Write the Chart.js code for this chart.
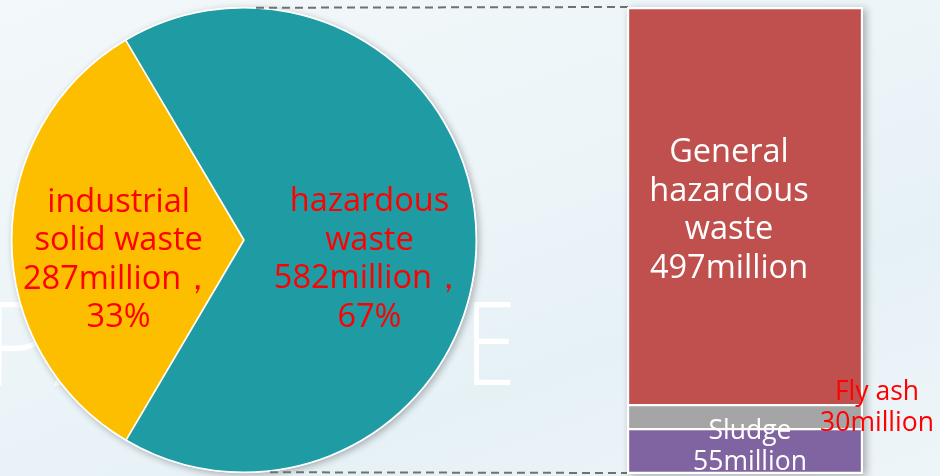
<!DOCTYPE html>
<html>
<head>
<meta charset="utf-8">
<script src="https://cdn.jsdelivr.net/npm/chart.js@4"></script>
<style>
  html, body { margin:0; padding:0; }
  body {
    width:940px; height:476px; overflow:hidden; position:relative;
    background: linear-gradient(160deg, #f3f8fa 0%, #edf5f8 40%, #e6f1f6 70%, #eef5f8 100%);
    font-family: "Open Sans", "Noto Sans", sans-serif;
  }
  .mark {
    position:absolute; top:282px; font-size:116px; font-weight:300;
    color:#ffffff; white-space:nowrap; line-height:1;
  }
  #mark1 { left:-16px; letter-spacing:2px; }
  #mark2 { right:424px; transform:scaleX(0.8); transform-origin:right center; }
  canvas { position:absolute; left:0; top:0; }
</style>
</head>
<body>
<div class="mark" id="mark1">PART</div>
<div class="mark" id="mark2">E</div>
<canvas id="pie" width="940" height="476"></canvas>
<canvas id="bar" width="940" height="476"></canvas>
<script>
// pie: total waste split
const pieNames = [['industrial', 'solid waste'], ['hazardous', 'waste']];
const pieValues = [287, 582];
const pieShares = ['33%', '67%'];
const pieColors = ['#fdbe00', '#1f9ca3'];

// stacked bar: hazardous waste breakdown (bottom to top)
const barNames = [['Sludge'], ['Fly ash'], ['General', 'hazardous', 'waste']];
const barValues = [55, 30, 497];
const barColors = ['#8064a2', '#a5a5a5', '#c0504d'];

const FONT = '"Open Sans", "Noto Sans", sans-serif';

function drawLines(ctx, lines, x, y, size, lh, color) {
  ctx.save();
  ctx.font = size + 'px ' + FONT;
  ctx.fillStyle = color;
  ctx.textAlign = 'center';
  ctx.textBaseline = 'middle';
  var top = y - (lines.length - 1) * lh / 2;
  lines.forEach(function (t, i) { ctx.fillText(t, x, top + i * lh); });
  ctx.restore();
}

// soft shadow behind the whole pie + slice labels
const pieShadow = {
  id: 'pieShadow',
  beforeDatasetsDraw(chart) {
    var a = chart.getDatasetMeta(0).data[0];
    var ctx = chart.ctx;
    ctx.save();
    ctx.shadowColor = 'rgba(0,0,0,0.28)';
    ctx.shadowBlur = 7;
    ctx.shadowOffsetX = 2;
    ctx.shadowOffsetY = 2;
    ctx.fillStyle = '#ffffff';
    ctx.beginPath();
    ctx.arc(a.x, a.y, a.outerRadius + 1, 0, Math.PI * 2);
    ctx.fill();
    ctx.restore();
  },
  afterDatasetsDraw(chart) {
    var ctx = chart.ctx;
    chart.getDatasetMeta(0).data.forEach(function (a, i) {
      var mid = (a.startAngle + a.endAngle) / 2;
      var k = 0.54;
      var x = a.x + Math.cos(mid) * a.outerRadius * k;
      var y = a.y + Math.sin(mid) * a.outerRadius * k + 20;
      var lines = pieNames[i].concat([pieValues[i] + 'million，', pieShares[i]]);
      drawLines(ctx, lines, x, y, 32.5, 38.5, '#ff0000');
    });
  }
};

const pieChart = new Chart(document.getElementById('pie'), {
  type: 'pie',
  data: {
    labels: pieNames.map(function (n) { return n.join(' '); }),
    datasets: [{
      data: pieValues,
      backgroundColor: pieColors,
      borderColor: '#ffffff',
      borderWidth: 1.5,
      hoverOffset: 0,
      offset: 0
    }]
  },
  options: {
    responsive: false,
    animation: false,
    rotation: 210.5,
    layout: { padding: { left: 11, top: 7, right: 463, bottom: 3 } },
    plugins: { legend: { display: false }, tooltip: { enabled: false } },
    events: []
  },
  plugins: [pieShadow]
});

// dashed connectors, bar shadow and bar labels
const barDecor = {
  id: 'barDecor',
  beforeDatasetsDraw(chart) {
    var ctx = chart.ctx;
    var metas = chart.getSortedVisibleDatasetMetas();
    var first = metas[0].data[0], last = metas[metas.length - 1].data[0];
    var left = first.x - first.width / 2, right = first.x + first.width / 2;
    var top = last.y, bottom = first.base;
    var a = pieChart.getDatasetMeta(0).data[0];

    ctx.save();
    ctx.strokeStyle = '#707070';
    ctx.lineWidth = 2;
    ctx.setLineDash([8, 5]);
    ctx.beginPath();
    ctx.moveTo(a.x + 12, a.y - a.outerRadius);
    ctx.lineTo(left, top - 1);
    ctx.moveTo(a.x + 26, a.y + a.outerRadius);
    ctx.lineTo(left, bottom);
    ctx.stroke();
    ctx.restore();

    ctx.save();
    ctx.shadowColor = 'rgba(0,0,0,0.3)';
    ctx.shadowBlur = 8;
    ctx.shadowOffsetX = 3;
    ctx.shadowOffsetY = 2;
    ctx.fillStyle = '#ffffff';
    ctx.fillRect(left - 1, top - 1, right - left + 2, bottom - top + 2);
    ctx.restore();
  },
  afterDatasetsDraw(chart) {
    var ctx = chart.ctx;
    chart.getSortedVisibleDatasetMetas().forEach(function (m, i) {
      var b = m.data[0];
      var lines = barNames[i].concat([barValues[i] + 'million']);
      var midY = (b.y + b.base) / 2;
      if (i === 2) {
        drawLines(ctx, lines, b.x - 16, midY + 4, 32.5, 38.5, '#ffffff');
      } else if (i === 1) {
        drawLines(ctx, lines, b.x + b.width / 2 + 15, midY - 9, 26.5, 31.5, '#ff0000');
      } else {
        drawLines(ctx, lines, b.x + 5, midY - 4, 26.5, 31, '#ffffff');
      }
    });
  }
};

new Chart(document.getElementById('bar'), {
  type: 'bar',
  data: {
    labels: [''],
    datasets: barValues.map(function (v, i) {
      return {
        label: barNames[i].join(' '),
        data: [v],
        backgroundColor: barColors[i],
        borderColor: '#ffffff',
        borderWidth: 1.5,
        borderSkipped: false,
        barPercentage: 1,
        categoryPercentage: 1
      };
    })
  },
  options: {
    responsive: false,
    animation: false,
    layout: { padding: { left: 628, right: 78, top: 8, bottom: 3 } },
    scales: {
      x: { stacked: true, display: false },
      y: { stacked: true, display: false, min: 0, max: barValues.reduce(function (s, v) { return s + v; }, 0) }
    },
    plugins: { legend: { display: false }, tooltip: { enabled: false } },
    events: []
  },
  plugins: [barDecor]
});
</script>
</body>
</html>
